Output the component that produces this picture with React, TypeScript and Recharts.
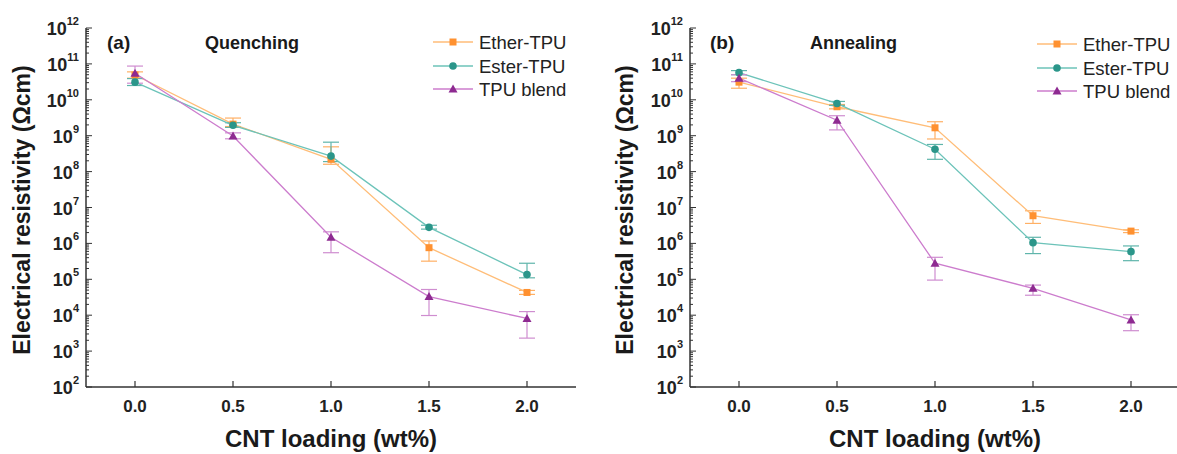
import React from 'react';
import { LineChart, Line, XAxis, YAxis, ErrorBar } from 'recharts';

// CNT loading (wt%)
const loading = [0, 0.5, 1.0, 1.5, 2.0];
const xTicks = [0, 0.5, 1.0, 1.5, 2.0];

// y axis: decades 10^2 .. 10^12 with minor ticks
const decades = [2, 3, 4, 5, 6, 7, 8, 9, 10, 11, 12];
const minorSteps = [2, 3, 4, 5, 6, 7, 8, 9];

// (a) Quenching: value, lower bound, upper bound
const qEther = [4.9e10, 2.1e9, 2.2e8, 7.6e5, 4.3e4];
const qEtherLo = [4.0e10, 1.8e9, 1.6e8, 3.2e5, 3.8e4];
const qEtherHi = [6.0e10, 3.1e9, 4.9e8, 1.17e6, 4.9e4];
const qEster = [3.1e10, 1.95e9, 2.7e8, 2.8e6, 1.35e5];
const qEsterLo = [2.5e10, 1.7e9, 1.9e8, 2.5e6, 1.1e5];
const qEsterHi = [3.9e10, 2.3e9, 6.6e8, 3.2e6, 2.8e5];
const qBlend = [5.5e10, 9.8e8, 1.48e6, 3.3e4, 8.1e3];
const qBlendLo = [2.9e10, 8.2e8, 5.5e5, 9.8e3, 2.3e3];
const qBlendHi = [8.7e10, 1.2e9, 2.1e6, 5.2e4, 1.26e4];

// (b) Annealing
const aEther = [3.1e10, 6.4e9, 1.66e9, 5.9e6, 2.2e6];
const aEtherLo = [2.1e10, 5.6e9, 8.1e8, 3.6e6, 2.0e6];
const aEtherHi = [4.0e10, 7.4e9, 2.45e9, 8.1e6, 2.4e6];
const aEster = [5.7e10, 7.9e9, 4.2e8, 1.05e6, 5.9e5];
const aEsterLo = [5.0e10, 7.0e9, 2.2e8, 5.2e5, 3.3e5];
const aEsterHi = [6.5e10, 9.0e9, 5.7e8, 1.48e6, 8.5e5];
const aBlend = [4.0e10, 2.7e9, 2.8e5, 5.6e4, 7.4e3];
const aBlendLo = [3.2e10, 1.45e9, 9.5e4, 3.6e4, 3.7e3];
const aBlendHi = [5.0e10, 3.6e9, 4.1e5, 6.9e4, 1.03e4];

const seriesNames = ['Ether-TPU', 'Ester-TPU', 'TPU blend'];

const ORANGE = { mark: '#ff9130', line: '#ffbd78', err: '#ffb065' };
const TEAL = { mark: '#2b968a', line: '#6cc3b9', err: '#5fb5ab' };
const PURPLE = { mark: '#8e2a91', line: '#cc7ccd', err: '#cf8dd0' };
const AXIS = '#333';
const FONT = 'Arial, "Liberation Sans", sans-serif';

const majorTicks = decades.map((d) => Math.pow(10, d));
const yTicks: number[] = [];
decades.forEach((d) => {
  yTicks.push(Math.pow(10, d));
  if (d < 12) minorSteps.forEach((m) => yTicks.push(m * Math.pow(10, d)));
});

const buildRows = (
  v1: number[], l1: number[], h1: number[],
  v2: number[], l2: number[], h2: number[],
  v3: number[], l3: number[], h3: number[]
) =>
  loading.map((x, i) => ({
    x,
    ether: v1[i],
    etherErr: [v1[i] - l1[i], h1[i] - v1[i]],
    ester: v2[i],
    esterErr: [v2[i] - l2[i], h2[i] - v2[i]],
    blend: v3[i],
    blendErr: [v3[i] - l3[i], h3[i] - v3[i]],
  }));

const quenchRows = buildRows(qEther, qEtherLo, qEtherHi, qEster, qEsterLo, qEsterHi, qBlend, qBlendLo, qBlendHi);
const annealRows = buildRows(aEther, aEtherLo, aEtherHi, aEster, aEsterLo, aEsterHi, aBlend, aBlendLo, aBlendHi);

const Y_MARGIN = 6;
const X_MARGIN = 8;

// y tick: inward tick line + 10^n label
const LogTick = (props: any) => {
  const { x, y, payload } = props;
  const v = payload.value;
  const major = majorTicks.some((t) => Math.abs(t - v) < t * 1e-6);
  const ax = x + Y_MARGIN;
  const exp = Math.round(Math.log10(v));
  return (
    <g>
      <line x1={ax} x2={ax + (major ? 6 : 3)} y1={y} y2={y} stroke={AXIS} strokeWidth={1} />
      {major && (
        <text x={x - 1} y={y + 7} textAnchor="end" fontFamily={FONT} fontWeight="bold" fill="#222">
          <tspan fontSize={18}>10</tspan>
          <tspan fontSize={11} dy={-10}>{exp}</tspan>
        </text>
      )}
    </g>
  );
};

const XTick = (props: any) => {
  const { x, y, payload } = props;
  const ay = y - X_MARGIN;
  return (
    <g>
      <line x1={x} x2={x} y1={ay} y2={ay - 6} stroke={AXIS} strokeWidth={1.2} />
      <text x={x} y={ay + 25} textAnchor="middle" fontFamily={FONT} fontWeight="bold" fontSize={17} fill="#222">
        {payload.value.toFixed(1)}
      </text>
    </g>
  );
};

const Square = (color: string) => (props: any) => {
  const { cx, cy, index } = props;
  return <rect key={`s-${index}`} x={cx - 3.5} y={cy - 3.5} width={7} height={7} fill={color} />;
};
const Circle = (color: string) => (props: any) => {
  const { cx, cy, index } = props;
  return <circle key={`c-${index}`} cx={cx} cy={cy} r={3.8} fill={color} />;
};
const Triangle = (color: string) => (props: any) => {
  const { cx, cy, index } = props;
  return <polygon key={`t-${index}`} points={`${cx},${cy - 4.5} ${cx - 4.5},${cy + 3.5} ${cx + 4.5},${cy + 3.5}`} fill={color} />;
};

function Panel({ data, margin }: { data: any[]; margin: any }) {
  return (
    <LineChart width={600} height={454} data={data} margin={margin}>
      <XAxis
        dataKey="x"
        type="number"
        domain={[-0.25, 2.25]}
        ticks={xTicks}
        interval={0}
        height={30}
        tickSize={0}
        tickMargin={X_MARGIN}
        tickLine={false}
        tick={<XTick />}
        axisLine={{ stroke: AXIS, strokeWidth: 1.5 }}
      />
      <XAxis xAxisId="top" orientation="top" type="number" domain={[0, 1]} height={0} tick={false} tickLine={false} axisLine={{ stroke: AXIS, strokeWidth: 1.5 }} />
      <YAxis
        scale="log"
        type="number"
        domain={[1e2, 1e12]}
        allowDataOverflow
        ticks={yTicks}
        interval={0}
        width={76}
        tickSize={0}
        tickMargin={Y_MARGIN}
        tickLine={false}
        tick={<LogTick />}
        axisLine={{ stroke: AXIS, strokeWidth: 1.5 }}
      />
      <YAxis yAxisId="right" orientation="right" type="number" domain={[0, 1]} width={0} tick={false} tickLine={false} axisLine={{ stroke: AXIS, strokeWidth: 1.5 }} />
      <Line dataKey="ether" type="linear" stroke={ORANGE.line} strokeWidth={1.3} dot={Square(ORANGE.mark)} activeDot={false} isAnimationActive={false}>
        <ErrorBar dataKey="etherErr" direction="y" width={8} stroke={ORANGE.err} strokeWidth={1.2} />
      </Line>
      <Line dataKey="ester" type="linear" stroke={TEAL.line} strokeWidth={1.3} dot={Circle(TEAL.mark)} activeDot={false} isAnimationActive={false}>
        <ErrorBar dataKey="esterErr" direction="y" width={8} stroke={TEAL.err} strokeWidth={1.2} />
      </Line>
      <Line dataKey="blend" type="linear" stroke={PURPLE.line} strokeWidth={1.3} dot={Triangle(PURPLE.mark)} activeDot={false} isAnimationActive={false}>
        <ErrorBar dataKey="blendErr" direction="y" width={8} stroke={PURPLE.err} strokeWidth={1.2} />
      </Line>
    </LineChart>
  );
}

function LegendBlock({ x, rows }: { x: number; rows: number[] }) {
  const colors = [ORANGE, TEAL, PURPLE];
  return (
    <g>
      {seriesNames.map((name, i) => {
        const y = rows[i];
        const c = colors[i];
        const mx = x + 20;
        return (
          <g key={name}>
            <line x1={x} x2={x + 40} y1={y} y2={y} stroke={c.line} strokeWidth={1.5} />
            {i === 0 && <rect x={mx - 3.5} y={y - 3.5} width={7} height={7} fill={c.mark} />}
            {i === 1 && <circle cx={mx} cy={y} r={3.8} fill={c.mark} />}
            {i === 2 && <polygon points={`${mx},${y - 4.5} ${mx - 4.5},${y + 3.5} ${mx + 4.5},${y + 3.5}`} fill={c.mark} />}
            <text x={x + 46} y={y + 6.5} fontFamily={FONT} fontSize={18.5} fill="#222">{name}</text>
          </g>
        );
      })}
    </g>
  );
}

export default function App() {
  const title = { fontFamily: FONT, fontWeight: 'bold' as const, fill: '#1a1a1a' };
  return (
    <div style={{ position: 'absolute', left: 0, top: 0, width: 1177, height: 454, overflow: 'hidden', background: '#fff' }}>
      <div style={{ position: 'absolute', left: 0, top: 0 }}>
        <Panel data={quenchRows} margin={{ top: 28, right: 24, bottom: 37, left: 10 }} />
      </div>
      <div style={{ position: 'absolute', left: 590, top: 0 }}>
        <Panel data={annealRows} margin={{ top: 28, right: 10, bottom: 37, left: 24 }} />
      </div>
      <svg width={1177} height={454} style={{ position: 'absolute', left: 0, top: 0, pointerEvents: 'none' }}>
        <text x={107} y={49} fontSize={19} {...title}>(a)</text>
        <text x={205} y={49} fontSize={18} {...title}>Quenching</text>
        <text x={710} y={49} fontSize={19} {...title}>(b)</text>
        <text x={810} y={49} fontSize={18} {...title}>Annealing</text>
        <LegendBlock x={433} rows={[42, 66, 89]} />
        <LegendBlock x={1037} rows={[44, 68, 91]} />
        <text x={331} y={447} fontSize={24} textAnchor="middle" {...title}>CNT loading (wt%)</text>
        <text x={935} y={447} fontSize={24} textAnchor="middle" {...title}>CNT loading (wt%)</text>
        <text x={30} y={210} fontSize={23} textAnchor="middle" transform="rotate(-90 30 210)" {...title}>Electrical resistivity (Ωcm)</text>
        <text x={633} y={210} fontSize={23} textAnchor="middle" transform="rotate(-90 633 210)" {...title}>Electrical resistivity (Ωcm)</text>
      </svg>
    </div>
  );
}
